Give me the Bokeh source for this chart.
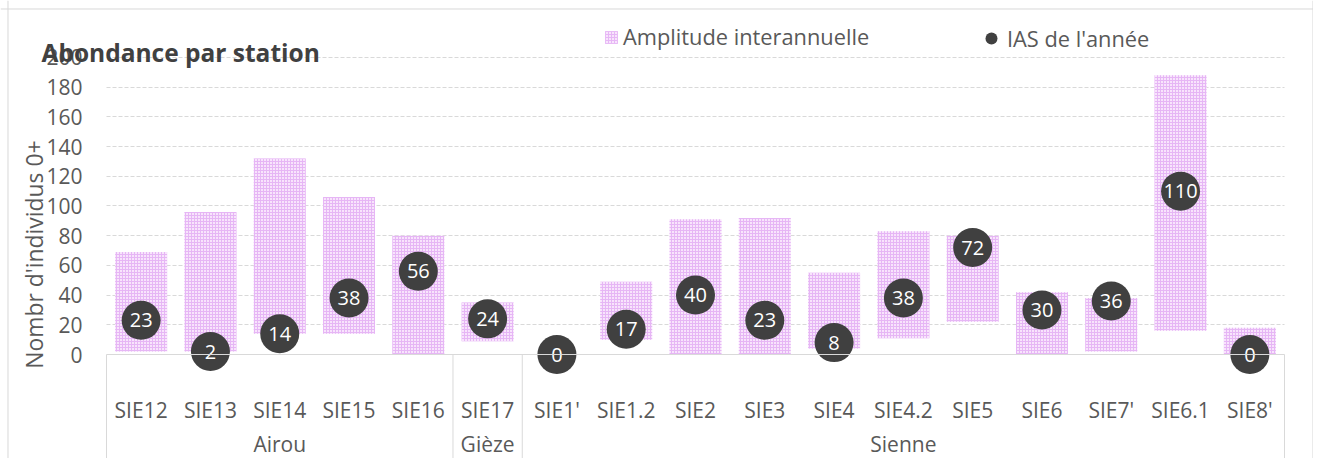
import math
from bokeh.plotting import figure
from bokeh.models import (Range1d, FixedTicker, Label, Legend, LegendItem,
                          ColumnDataSource, Span, LinearAxis, Grid)
from bokeh.core.properties import value
from bokeh.embed import file_html
from bokeh.resources import INLINE

# ---------------- data ----------------
groups = ["Airou", "Gièze", "Sienne"]
station_group = ["Airou", "Airou", "Airou", "Airou", "Airou", "Gièze",
                 "Sienne", "Sienne", "Sienne", "Sienne", "Sienne", "Sienne",
                 "Sienne", "Sienne", "Sienne", "Sienne", "Sienne"]
stations = ["SIE12", "SIE13", "SIE14", "SIE15", "SIE16", "SIE17",
            "SIE1'", "SIE1.2", "SIE2", "SIE3", "SIE4", "SIE4.2",
            "SIE5", "SIE6", "SIE7'", "SIE6.1", "SIE8'"]
amp_low = [2, 2, 14, 14, 0, 9, 0, 10, 0, 0, 4, 11, 22, 0, 2, 16, 0]
amp_high = [69, 96, 132, 106, 80, 35, 0, 49, 91, 92, 55, 83, 80, 42, 38, 188, 18]
ias = [23, 2, 14, 38, 56, 24, 0, 17, 40, 23, 8, 38, 72, 30, 36, 110, 0]
y_ticks = [0, 20, 40, 60, 80, 100, 120, 140, 160, 180, 200]

# ---------------- styling ----------------
FONT = "Open Sans"
GREY_TXT = "#595959"
DARK = "#404040"
LINE = "#d9d9d9"
W, H = 1313, 458
X_START, X_END = -2.0297, 16.9185
Y_BOTTOM, Y_TOP = -70.03, 238.38

n = len(stations)
xpos = list(range(n))          # category slots, one unit wide
source = ColumnDataSource(dict(x=xpos, low=amp_low, high=amp_high,
                               ias=ias, lab=[str(v) for v in ias]))

p = figure(x_range=Range1d(X_START, X_END), y_range=Range1d(Y_BOTTOM, Y_TOP),
           width=W, height=H, output_backend="svg", toolbar_location=None,
           title=None, x_axis_type=None, y_axis_type=None,
           min_border_left=0, min_border_right=0, min_border_top=0,
           min_border_bottom=0)
p.outline_line_color = None
p.background_fill_color = "white"
p.border_fill_color = "white"

# axes drawn inside the frame
xa = LinearAxis(fixed_location=0, bounds=(-0.5, n - 0.5),
                ticker=FixedTicker(ticks=xpos, minor_ticks=[]),
                major_label_overrides={i: s for i, s in zip(xpos, stations)})
xa.axis_line_color = LINE
xa.axis_line_width = 1
xa.major_tick_line_color = None
xa.minor_tick_line_color = None
xa.major_tick_out = 0
xa.major_tick_in = 0
xa.major_label_standoff = 41
xa.major_label_text_font = FONT
xa.major_label_text_font_size = "21px"
xa.major_label_text_color = GREY_TXT
p.add_layout(xa, "below")

ya = LinearAxis(fixed_location=-0.5, bounds=(0, 200),
                ticker=FixedTicker(ticks=y_ticks, minor_ticks=[]))
ya.axis_line_color = None
ya.major_tick_line_color = None
ya.minor_tick_line_color = None
ya.major_tick_out = 0
ya.major_tick_in = 0
ya.major_label_standoff = 24
ya.major_label_text_font = FONT
ya.major_label_text_font_size = "21px"
ya.major_label_text_color = GREY_TXT
p.add_layout(ya, "left")

# horizontal grid
grid = Grid(dimension=1, ticker=FixedTicker(ticks=y_ticks[1:], minor_ticks=[]),
            grid_line_color=LINE, grid_line_dash="4 2", grid_line_width=1)
if "cross_bounds" in grid.properties():
    grid.cross_bounds = (-0.5, n - 0.5)
p.add_layout(grid)

# bars (interannual amplitude)
bars = p.vbar(x="x", bottom="low", top="high", width=0.75, source=source,
              fill_color="#f8e4fc", line_color=None,
              hatch_pattern="+", hatch_color="#e6b6f5", hatch_scale=3,
              hatch_weight=1)

# group separators below the axis
bounds = [0]
for i in range(1, n):
    if station_group[i] != station_group[i - 1]:
        bounds.append(i)
bounds.append(n)
sep_x = [b - 0.5 for b in bounds]
p.segment(x0=sep_x, y0=[0] * len(sep_x), x1=sep_x,
          y1=[Y_BOTTOM] * len(sep_x), line_color=LINE, line_width=1)

# IAS points
pts = p.scatter(x="x", y="ias", size=39, source=source, fill_color=DARK,
                line_color=None)
p.text(x="x", y="ias", text="lab", source=source, text_color="white",
       text_font=value(FONT), text_font_size="20px", text_align="center",
       text_baseline="middle")

# group labels, centred under their stations
group_x = [sum(x for x, g in zip(xpos, station_group) if g == gr) /
           station_group.count(gr) for gr in groups]
p.text(x=group_x, y=[-60] * len(groups), text=groups, text_color=GREY_TXT,
       text_font=value(FONT), text_font_size="21px", text_align="center",
       text_baseline="middle")

# y-axis title
p.add_layout(Label(x=-0.5, y=67.3, x_offset=-71.5, angle=math.pi / 2,
                   text="Nombr d'individus 0+", text_font=FONT,
                   text_font_size="22.9px", text_color=GREY_TXT,
                   text_align="center", text_baseline="middle"))

# chart title
p.add_layout(Label(x=-0.5, y=200, x_offset=-65, y_offset=5,
                   text="Abondance par station", text_font=FONT,
                   text_font_size="24.5px", text_font_style="bold",
                   text_color=DARK, text_baseline="alphabetic"))

# chart border
for loc, dim in ((-1.9215, "height"), (16.911, "height"), (232.66, "width")):
    p.add_layout(Span(location=loc, dimension=dim, line_color=LINE,
                      line_width=1))

# legends
common = dict(orientation="horizontal", padding=0, margin=0,
              border_line_color=None, background_fill_alpha=0,
              label_text_font=FONT, label_text_font_size="21.8px",
              label_text_color=GREY_TXT)
leg1 = Legend(items=[LegendItem(label="Amplitude interannuelle", renderers=[bars])],
              location=(603, 407), glyph_width=16, glyph_height=16,
              label_height=16, label_standoff=4, **common)
leg2 = Legend(items=[LegendItem(label="IAS de l'année", renderers=[pts])],
              location=(976, 405), glyph_width=30, glyph_height=30,
              label_height=16, label_standoff=1, **common)
p.add_layout(leg1)
p.add_layout(leg2)

open("out.html", "w").write(file_html(p, INLINE))
